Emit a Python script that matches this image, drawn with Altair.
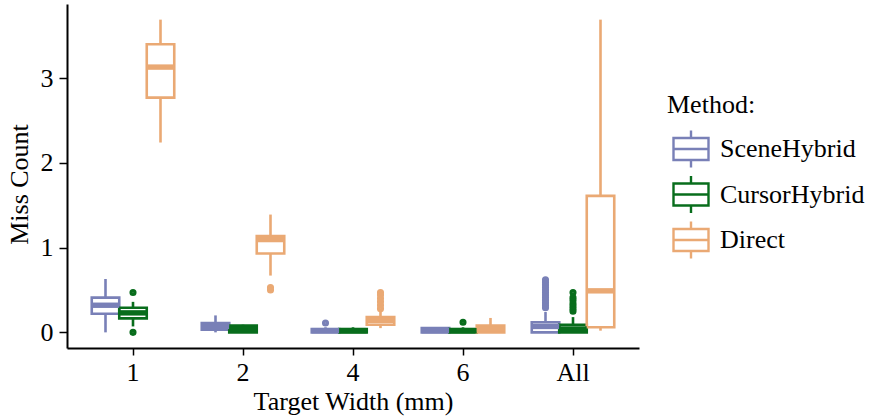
import altair as alt
import pandas as pd

categories = ["1", "2", "4", "6", "All"]
methods = ["SceneHybrid", "CursorHybrid", "Direct"]
colors = ["#7980b7", "#086d1c", "#eaa974"]

# box statistics (per category, in order of `categories`)
scene_lower = [0.00, 0.00, 0.00, 0.00, 0.00]
scene_q1 = [0.22, 0.03, 0.00, 0.00, 0.00]
scene_median = [0.32, 0.07, 0.02, 0.02, 0.07]
scene_q3 = [0.41, 0.11, 0.04, 0.05, 0.12]
scene_upper = [0.63, 0.20, 0.06, 0.06, 0.24]

cursor_lower = [0.07, 0.00, 0.00, 0.00, 0.00]
cursor_q1 = [0.165, 0.00, 0.00, 0.00, 0.00]
cursor_median = [0.23, 0.04, 0.02, 0.02, 0.04]
cursor_q3 = [0.29, 0.08, 0.04, 0.04, 0.09]
cursor_upper = [0.36, 0.09, 0.06, 0.06, 0.18]

direct_lower = [2.24, 0.67, 0.05, 0.00, 0.02]
direct_q1 = [2.77, 0.93, 0.09, 0.00, 0.06]
direct_median = [3.13, 1.095, 0.14, 0.04, 0.49]
direct_q3 = [3.40, 1.135, 0.18, 0.08, 1.61]
direct_upper = [3.69, 1.39, 0.25, 0.17, 3.69]

scene_outliers = {"4": [0.11],
                  "All": [0.29, 0.32, 0.35, 0.38, 0.41, 0.44, 0.47, 0.50, 0.53, 0.56, 0.59, 0.62]}
cursor_outliers = {"1": [0.00, 0.47], "6": [0.12],
                   "All": [0.25, 0.28, 0.31, 0.34, 0.38, 0.41, 0.47]}
direct_outliers = {"2": [0.50, 0.53], "4": [0.28, 0.32, 0.36, 0.40, 0.44, 0.47]}

stats = {
    "SceneHybrid": (scene_lower, scene_q1, scene_median, scene_q3, scene_upper, scene_outliers),
    "CursorHybrid": (cursor_lower, cursor_q1, cursor_median, cursor_q3, cursor_upper, cursor_outliers),
    "Direct": (direct_lower, direct_q1, direct_median, direct_q3, direct_upper, direct_outliers),
}

box_rows, out_rows = [], []
for m, (lo, q1, md, q3, up, outs) in stats.items():
    for i, c in enumerate(categories):
        box_rows.append(dict(cat=c, method=m, lower=lo[i], q1=q1[i], median=md[i], q3=q3[i], upper=up[i]))
    for c, vals in outs.items():
        for v in vals:
            out_rows.append(dict(cat=c, method=m, value=v))
boxes = pd.DataFrame(box_rows)
outliers = pd.DataFrame(out_rows)

FONT = "Liberation Serif"
FS = 26
LW = 2.6

x_enc = alt.X("cat:N", sort=categories,
              scale=alt.Scale(domain=categories, paddingInner=0, paddingOuter=0.1),
              axis=alt.Axis(title="Target Width (mm)", labelAngle=0, tickSize=7, labelPadding=4,
                            titlePadding=3))
xo_enc = alt.XOffset("method:N", sort=methods,
                     scale=alt.Scale(domain=methods, paddingInner=0, paddingOuter=0.5))
y_scale = alt.Scale(domain=[-0.1845, 3.8745], nice=False, zero=False)

legend = alt.Legend(title="Method:", orient="none", legendX=600, legendY=88,
                    symbolType="M-1,-0.63H1V0.63H-1Z M-1,0H1 M0,-0.63V-1.06 M0,0.63V1.06",
                    symbolSize=1225, symbolStrokeWidth=2.4,
                    symbolFillColor="transparent", symbolOffset=5,
                    rowPadding=-2.5, labelOffset=10, titlePadding=12, padding=0)
color_enc = alt.Color("method:N", scale=alt.Scale(domain=methods, range=colors), legend=legend)

box = alt.Chart(boxes).mark_bar(filled=False, strokeWidth=LW, opacity=1).encode(
    x=x_enc, xOffset=xo_enc,
    y=alt.Y("q1:Q", scale=y_scale,
            axis=alt.Axis(title="Miss Count", values=[0, 1, 2, 3], tickSize=8, labelPadding=6,
                          titlePadding=8, titleY=180, format="d")),
    y2="q3:Q",
    color=color_enc,
)

whisker_lo = alt.Chart(boxes).mark_rule(strokeWidth=LW).encode(
    x=x_enc, xOffset=xo_enc,
    y=alt.Y("lower:Q", scale=y_scale), y2="q1:Q",
    color=color_enc,
)
whisker_hi = alt.Chart(boxes).mark_rule(strokeWidth=LW).encode(
    x=x_enc, xOffset=xo_enc,
    y=alt.Y("q3:Q", scale=y_scale), y2="upper:Q",
    color=color_enc,
)

median = alt.Chart(boxes).mark_tick(filled=False, thickness=0.01, strokeWidth=5.4,
                                    size=22, opacity=1).encode(
    x=x_enc, xOffset=xo_enc,
    y=alt.Y("median:Q", scale=y_scale),
    color=color_enc,
)

points = alt.Chart(outliers).mark_point(filled=False, size=11, strokeWidth=3.8,
                                        opacity=1, shape="circle").encode(
    x=x_enc, xOffset=xo_enc,
    y=alt.Y("value:Q", scale=y_scale),
    color=color_enc,
)

chart = alt.layer(box, whisker_lo, whisker_hi, median, points).properties(
    width=572, height=344,
    padding={"left": 67, "top": 4, "right": 230, "bottom": 70},
    autosize=alt.AutoSizeParams(type="none"),
).configure_view(stroke=None).configure_axis(
    labelFont=FONT, titleFont=FONT, labelFontSize=FS, titleFontSize=FS,
    labelColor="black", titleColor="black", titleFontWeight="normal",
    domainColor="black", domainWidth=2, tickColor="black", tickWidth=1.5, grid=False,
).configure_legend(
    labelFont=FONT, titleFont=FONT, labelFontSize=FS, titleFontSize=FS,
    labelColor="black", titleColor="black", titleFontWeight="normal",
)

chart.save("out.html", embed_options={"renderer": "svg", "actions": False})
